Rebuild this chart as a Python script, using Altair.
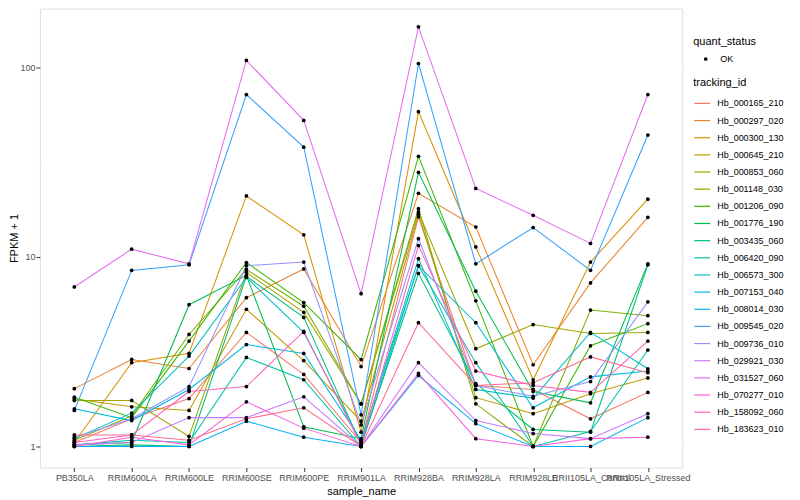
import altair as alt
import pandas as pd

samples = ["PB350LA", "RRIM600LA", "RRIM600LE", "RRIM600SE", "RRIM600PE",
           "RRIM901LA", "RRIM928BA", "RRIM928LA", "RRIM928LE",
           "RRII105LA_Control", "RRII105LA_Stressed"]

ids = ["Hb_000165_210", "Hb_000297_020", "Hb_000300_130", "Hb_000645_210",
       "Hb_000853_060", "Hb_001148_030", "Hb_001206_090", "Hb_001776_190",
       "Hb_003435_060", "Hb_006420_090", "Hb_006573_300", "Hb_007153_040",
       "Hb_008014_030", "Hb_009545_020", "Hb_009736_010", "Hb_029921_030",
       "Hb_031527_060", "Hb_070277_010", "Hb_158092_060", "Hb_183623_010"]

colors = ["#F8766D", "#EA8331", "#D89000", "#C09B00", "#A3A500", "#7CAE00",
          "#39B600", "#00BB4E", "#00BF7D", "#00C1A3", "#00BFC4", "#00BAE0",
          "#00B0F6", "#35A2FF", "#9590FF", "#C77CFF", "#E76BF3", "#FA62DB",
          "#FF62BC", "#FF6C91"]

v_000165_210 = [1.05, 1.40, 1.79, 4.0, 2.40, 1.05, 16.3, 2.10, 2.00, 1.40, 1.93]
v_000297_020 = [2.02, 2.88, 2.58, 6.1, 8.65, 2.64, 21.7, 14.4, 2.70, 7.3, 16.2]
v_000300_130 = [1.05, 2.77, 3.10, 21.0, 13.1, 1.19, 58.5, 11.3, 2.25, 9.4, 20.2]
v_000645_210 = [1.78, 1.62, 1.55, 5.3, 2.84, 1.36, 16.8, 1.81, 1.49, 1.90, 2.30]
v_000853_060 = [1.75, 1.75, 1.13, 8.3, 5.1, 1.68, 17.3, 3.28, 4.40, 3.95, 4.00]
v_001148_030 = [1.08, 1.45, 3.9, 8.6, 5.5, 1.68, 18.0, 1.68, 1.00, 5.25, 4.90]
v_001206_090 = [1.82, 1.42, 3.6, 9.35, 5.75, 2.87, 34.0, 5.87, 1.00, 3.40, 4.45]
v_001776_190 = [1.02, 1.05, 5.6, 8.0, 1.27, 1.10, 28.0, 6.60, 1.95, 1.70, 9.20]
v_003435_060 = [1.00, 1.02, 1.00, 7.9, 4.80, 1.02, 8.2, 2.15, 1.23, 1.19, 9.10]
v_006420_090 = [1.02, 1.08, 1.05, 2.95, 2.25, 1.00, 9.0, 2.77, 1.00, 1.20, 3.23]
v_006573_300 = [1.10, 1.50, 3.00, 7.8, 4.00, 1.05, 9.8, 2.00, 1.80, 4.00, 2.57]
v_007153_040 = [1.58, 1.37, 2.00, 3.45, 3.10, 1.08, 9.0, 4.50, 1.60, 2.33, 2.50]
v_008014_030 = [1.00, 1.00, 1.00, 1.36, 1.12, 1.00, 2.37, 1.32, 1.00, 1.00, 1.42]
v_009545_020 = [1.55, 8.5, 9.1, 72.0, 38.0, 1.47, 105.0, 9.2, 14.3, 8.5, 44.0]
v_009736_010 = [1.12, 1.40, 2.07, 9.0, 9.4, 1.30, 12.5, 2.10, 1.84, 2.20, 5.80]
v_029921_030 = [1.02, 1.05, 1.42, 1.42, 1.83, 1.00, 2.77, 1.37, 1.17, 1.10, 1.49]
v_031527_060 = [6.95, 11.0, 9.2, 109.0, 52.6, 6.4, 164.0, 23.0, 16.6, 11.8, 72.0]
v_070277_010 = [1.00, 1.12, 1.02, 1.72, 1.25, 1.00, 2.43, 1.10, 1.00, 1.10, 1.12]
v_158092_060 = [1.05, 1.15, 1.95, 2.07, 4.05, 1.02, 11.5, 2.50, 2.10, 1.93, 3.60]
v_183623_010 = [1.15, 1.15, 1.08, 1.40, 1.60, 1.00, 4.5, 2.10, 2.17, 2.97, 2.45]

series = [v_000165_210, v_000297_020, v_000300_130, v_000645_210, v_000853_060,
          v_001148_030, v_001206_090, v_001776_190, v_003435_060, v_006420_090,
          v_006573_300, v_007153_040, v_008014_030, v_009545_020, v_009736_010,
          v_029921_030, v_031527_060, v_070277_010, v_158092_060, v_183623_010]

rows = []
for tid, vals in zip(ids, series):
    for s, v in zip(samples, vals):
        rows.append({"tracking_id": tid, "sample_name": s, "fpkm1": v,
                     "quant_status": "OK"})
df = pd.DataFrame(rows)

FONT = "Liberation Sans"
major = "datum.value < 2 || (datum.value > 5 && datum.value < 20) || datum.value > 50"

x_enc = alt.X("sample_name:N", sort=samples,
              scale=alt.Scale(type="point", padding=0.6),
              axis=alt.Axis(title="sample_name", labelAngle=0, labelOverlap=False,
                            labelFontSize=9, labelColor="#4D4D4D", labelPadding=2,
                            tickColor="#333333", tickSize=4, domain=False,
                            grid=True, gridColor="white", gridWidth=1.1,
                            titleFontSize=11, titleFontWeight="normal",
                            titleColor="black", titlePadding=3))
y_enc = alt.Y("fpkm1:Q",
              scale=alt.Scale(type="log", domain=[0.775, 204.5], nice=False),
              axis=alt.Axis(title="FPKM + 1", values=[1, 3.1623, 10, 31.623, 100],
                            labelExpr="(" + major + ") ? format(datum.value, 'd') : ''",
                            labelFontSize=9, labelColor="#4D4D4D", labelPadding=1,
                            tickColor="#333333", tickSize=4,
                            tickOpacity={"condition": {"test": major, "value": 1}, "value": 0},
                            domain=False, grid=True, gridColor="white",
                            gridWidth={"condition": {"test": major, "value": 1.1}, "value": 0.55},
                            titleFontSize=11, titleFontWeight="normal",
                            titleColor="black", titleX=-25, titleY=230,
                            titleBaseline="middle", titleAlign="center", titleAngle=270))

lines = alt.Chart(df).mark_line(strokeWidth=1.05, clip=True).encode(
    x=x_enc, y=y_enc,
    color=alt.Color("tracking_id:N",
                    scale=alt.Scale(domain=ids, range=colors),
                    legend=alt.Legend(title="tracking_id", orient="none",
                                      legendX=655, legendY=69, padding=0,
                                      symbolType="stroke", symbolStrokeWidth=1.2,
                                      symbolSize=256, rowPadding=3.2,
                                      labelOffset=6, labelFontSize=9,
                                      labelColor="black", titleFontSize=11,
                                      titleFontWeight="normal", titlePadding=6,
                                      titleColor="black")),
    detail="tracking_id:N",
)

points = alt.Chart(df).mark_point(filled=True, size=14, color="black", opacity=1).encode(
    x=x_enc, y=y_enc,
    shape=alt.Shape("quant_status:N",
                    scale=alt.Scale(domain=["OK"], range=["circle"]),
                    legend=alt.Legend(title="quant_status", orient="none",
                                      legendX=655, legendY=27, padding=0,
                                      symbolFillColor="black", symbolStrokeColor="black",
                                      symbolSize=14, symbolOffset=8, labelOffset=10,
                                      labelFontSize=9, labelColor="black",
                                      titleFontSize=11, titleFontWeight="normal",
                                      titlePadding=8, titleColor="black")),
)

chart = alt.layer(lines, points).properties(
    width=644, height=460,
    autosize=alt.AutoSizeParams(type="none"),
    padding={"left": 32, "top": 0, "right": 110, "bottom": 40},
).configure_view(fill="#EBEBEB", stroke="transparent").configure(
    font=FONT
)

chart.save("out.html", embed_options={"renderer": "svg", "actions": False})
